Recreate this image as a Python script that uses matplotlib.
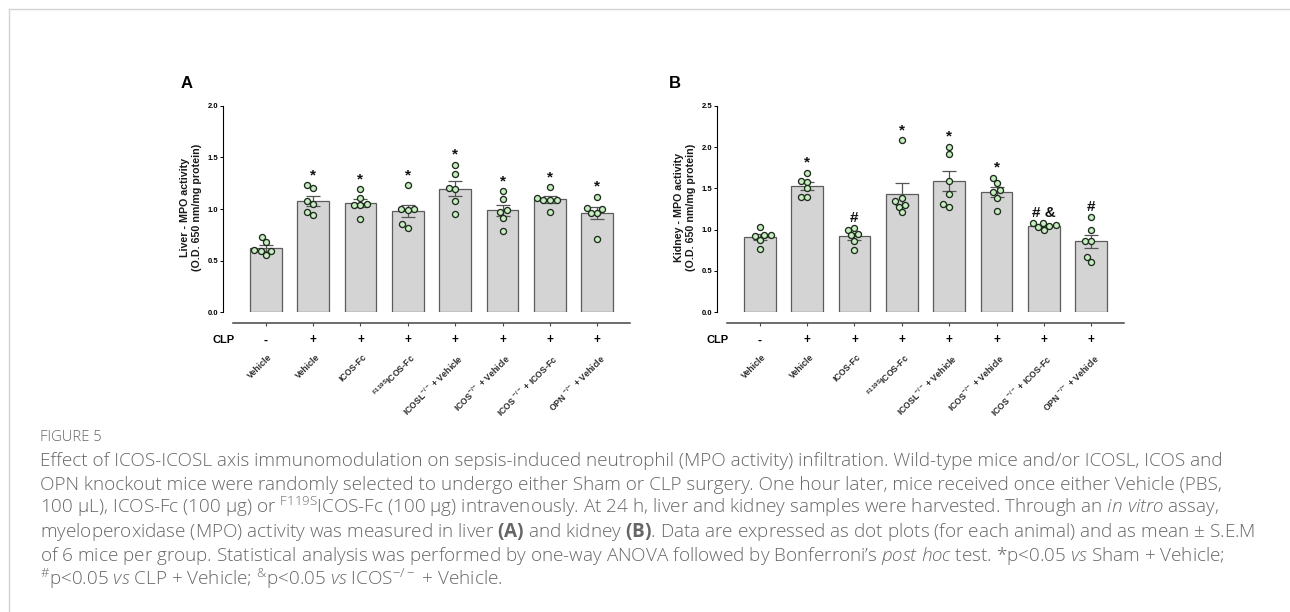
import matplotlib
matplotlib.use('Agg')
import matplotlib.pyplot as plt
from matplotlib.lines import Line2D
from matplotlib.mathtext import MathTextParser
import numpy as np

plt.rcParams['font.family'] = ['Liberation Sans', 'DejaVu Sans']
plt.rcParams['mathtext.fontset'] = 'custom'
plt.rcParams['mathtext.rm'] = 'Open Sans:light'
plt.rcParams['mathtext.it'] = 'Open Sans:italic:light'
plt.rcParams['mathtext.bf'] = 'Open Sans:bold'

# superscript ampersand, if mathtext accepts it
amp_sup = r'$\mathregular{^{&}}$'
try:
    MathTextParser('agg').parse(amp_sup)
except Exception:
    amp_sup = '&'

# ---- data ----
clp_signs = ['-', '+', '+', '+', '+', '+', '+', '+']
group_labels = ['Vehicle', 'Vehicle', 'ICOS-Fc',
                r'$\mathregular{^{F119S}}$ICOS-Fc',
                r'ICOSL$\mathregular{^{-/-}}$ + Vehicle',
                r'ICOS$\mathregular{^{-/-}}$ + Vehicle',
                r'ICOS $\mathregular{^{-/-}}$ + ICOS-Fc',
                r'OPN $\mathregular{^{-/-}}$ + Vehicle']

liver = [
    [0.73, 0.68, 0.60, 0.59, 0.59, 0.55],
    [1.23, 1.20, 1.08, 1.05, 0.97, 0.94],
    [1.19, 1.11, 1.05, 1.04, 1.04, 0.90],
    [1.23, 1.00, 1.00, 0.99, 0.85, 0.82],
    [1.43, 1.34, 1.20, 1.19, 1.08, 0.95],
    [1.17, 1.10, 0.99, 0.97, 0.91, 0.79],
    [1.21, 1.11, 1.09, 1.09, 1.09, 0.97],
    [1.12, 1.01, 1.00, 0.96, 0.96, 0.71],
]
kidney = [
    [1.03, 0.94, 0.93, 0.92, 0.87, 0.77],
    [1.69, 1.59, 1.58, 1.50, 1.40, 1.39],
    [1.02, 1.00, 0.95, 0.93, 0.86, 0.75],
    [2.08, 1.38, 1.35, 1.30, 1.28, 1.21],
    [2.00, 1.92, 1.59, 1.43, 1.31, 1.28],
    [1.63, 1.56, 1.48, 1.45, 1.38, 1.23],
    [1.08, 1.08, 1.06, 1.05, 1.03, 1.00],
    [1.15, 1.00, 0.86, 0.86, 0.67, 0.61],
]
liver_marks = ['', '*', '*', '*', '*', '*', '*', '*']
kidney_marks = ['', '*', '#', '*', '*', '*', '# &', '#']

liver_ticks = [0.0, 0.5, 1.0, 1.5, 2.0]
kidney_ticks = [0.0, 0.5, 1.0, 1.5, 2.0, 2.5]

caption_title = 'FIGURE 5'
caption_lines = [
    'Effect of ICOS-ICOSL axis immunomodulation on sepsis-induced neutrophil (MPO activity) infiltration. Wild-type mice and/or ICOSL, ICOS and',
    'OPN knockout mice were randomly selected to undergo either Sham or CLP surgery. One hour later, mice received once either Vehicle (PBS,',
    r'100 µL), ICOS-Fc (100 µg) or $\mathregular{^{F119S}}$ICOS-Fc (100 µg) intravenously. At 24 h, liver and kidney samples were harvested. Through an $\mathit{in\ vitro}$ assay,',
    r'myeloperoxidase (MPO) activity was measured in liver $\mathbf{(A)}$ and kidney $\mathbf{(B)}$. Data are expressed as dot plots (for each animal) and as mean ± S.E.M',
    r'of 6 mice per group. Statistical analysis was performed by one-way ANOVA followed by Bonferroni’s $\mathit{post\ hoc}$ test. *p<0.05 $\mathit{vs}$ Sham + Vehicle;',
    r'$\mathregular{^{\#}}$p<0.05 $\mathit{vs}$ CLP + Vehicle; ' + amp_sup
    + r'p<0.05 $\mathit{vs}$ ICOS$\mathregular{^{-/-}}$ + Vehicle.',
]

W, H = 1290, 612
fig = plt.figure(figsize=(W / 100, H / 100), dpi=100)
PT = 0.72  # points per pixel


def swarm(vals, px_per_unit, d=6.6):
    # simple beeswarm, returns x offsets in pixels
    placed = []
    offs = np.zeros(len(vals))
    for i in np.argsort(vals):
        y = vals[i] * px_per_unit
        cands = [0.0]
        for xo, yo in placed:
            dy = y - yo
            if abs(dy) < d:
                dx = np.sqrt(d * d - dy * dy)
                cands += [xo - dx, xo + dx]
        cands.sort(key=abs)
        for c in cands:
            if all((c - xo) ** 2 + (y - yo) ** 2 >= d * d - 1e-6 for xo, yo in placed):
                offs[i] = c
                placed.append((c, y))
                break
    return offs


def panel(left_px, data, marks, ymax, yticks, ylabel, letter, letter_px):
    ax_w, ax_top, ax_bot = 397, 105.7, 312.3
    ax = fig.add_axes([left_px / W, 1 - ax_bot / H, ax_w / W, (ax_bot - ax_top) / H])
    x = np.arange(len(data))
    xlim = (-0.69, 7.69)
    ax.set_xlim(xlim)
    ax.set_ylim(0, ymax)
    px_x = ax_w / (xlim[1] - xlim[0])
    px_y = (ax_bot - ax_top) / ymax

    means = [np.mean(v) for v in data]
    sems = [np.std(v, ddof=1) / np.sqrt(len(v)) for v in data]
    ax.bar(x, means, width=0.67, color='#d4d4d4', edgecolor='#5c5c5c', linewidth=0.9, zorder=1)
    ax.errorbar(x, means, yerr=sems, fmt='none', ecolor='#555555', elinewidth=0.9,
                capsize=5.2, capthick=0.9, zorder=2)
    for i, v in enumerate(data):
        v = np.array(v)
        offs = swarm(v, px_y) / px_x
        ax.scatter(i + offs, v, s=19, facecolor='#c8efc1', edgecolor='#1e2b1e',
                   linewidth=0.95, zorder=3)
        if marks[i]:
            ax.annotate(marks[i], xy=(i, v.max()), xytext=(0, 4.5), textcoords='offset points',
                        ha='center', va='baseline', fontsize=11, fontweight='bold', color='#111111')

    for s in ['top', 'right']:
        ax.spines[s].set_visible(False)
    ax.spines['left'].set_position(('outward', 10 * PT))
    ax.spines['left'].set_linewidth(0.8)
    ax.spines['bottom'].set_position(('outward', 11 * PT))
    ax.spines['bottom'].set_linewidth(1.1)
    ax.spines['bottom'].set_color('#444444')
    ax.set_yticks(yticks)
    ax.set_yticklabels(['%.1f' % t for t in yticks])
    ax.tick_params(axis='y', length=2.2, width=0.7, labelsize=5.5, pad=1.2)
    for t in ax.get_yticklabels():
        t.set_fontweight('bold')
    ax.set_xticks(x)
    ax.tick_params(axis='x', length=2.2, width=0.8, color='#444444', labelbottom=False)

    # CLP row
    ax.annotate('CLP', xy=(0, 0), xycoords='axes fraction', xytext=(2 * PT, -28 * PT),
                textcoords='offset points', ha='right', va='center', fontsize=8, fontweight='bold')
    for i in x:
        ax.annotate(clp_signs[i], xy=(i, 0), xycoords=('data', 'axes fraction'),
                    xytext=(0, -28 * PT), textcoords='offset points', ha='center', va='center',
                    fontsize=8.5, fontweight='bold')
        ax.annotate(group_labels[i], xy=(i, 0), xycoords=('data', 'axes fraction'),
                    xytext=(2 * PT, -40 * PT), textcoords='offset points', ha='right', va='top',
                    rotation=45, rotation_mode='anchor', fontsize=6.3, fontweight='bold',
                    color='#2a2a2a')

    fig.text((left_px - 42) / W, 1 - 207 / H, ylabel, rotation=90, ha='center', va='center',
             fontsize=7.7, fontweight='bold', linespacing=1.35, color='#1a1a1a')
    fig.text(letter_px / W, 1 - 84 / H, letter, ha='center', va='center', fontsize=12,
             fontweight='bold')
    return ax


panel(233, liver, liver_marks, 2.0, liver_ticks,
      'Liver - MPO activity\n(O.D. 650 nm/mg protein)', 'A', 187)
panel(727, kidney, kidney_marks, 2.5, kidney_ticks,
      'Kidney - MPO activity\n(O.D. 650 nm/mg protein)', 'B', 675)

# page frame
fig.add_artist(Line2D([9 / W, 1], [1 - 9 / H, 1 - 9 / H], color='#d2d2d2', lw=1.0))
fig.add_artist(Line2D([9 / W, 9 / W], [0, 1 - 9 / H], color='#d2d2d2', lw=1.0))

# caption: widest line should end near x=1253 px
cap_base = [465.7, 489.5, 513.3, 537.1, 560.9, 584.7]
cap_texts = [fig.text(40 / W, 1 - yy / H, line, ha='left', va='baseline', fontsize=10,
                      family='Open Sans', fontweight='light', color='#666666')
             for yy, line in zip(cap_base, caption_lines)]
renderer = fig.canvas.get_renderer()
w0 = max(t.get_window_extent(renderer).width for t in cap_texts)
cap_size = 10 * (1253 - 40) / w0
for t in cap_texts:
    t.set_fontsize(cap_size)
fig.text(40 / W, 1 - 441 / H, caption_title, ha='left', va='baseline', fontsize=cap_size * 0.78,
         family='Open Sans', fontweight='light', color='#666666')

fig.savefig('out.png', dpi=100)
